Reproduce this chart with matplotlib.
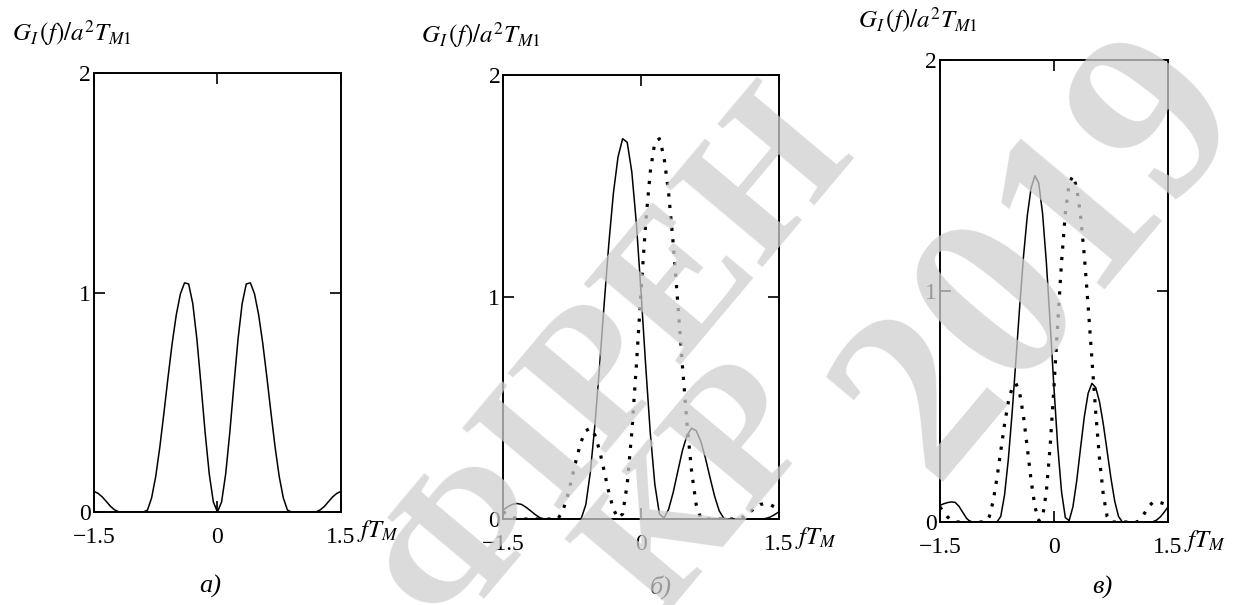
import numpy as np
import matplotlib
matplotlib.use("Agg")
import matplotlib.pyplot as plt

plt.rcParams['font.family'] = ['Liberation Serif', 'DejaVu Serif']
plt.rcParams['mathtext.fontset'] = 'stix'

# normalised frequency fT_M, step 0.05
fT = np.linspace(-1.5, 1.5, 61)

# а) symmetric spectrum
G_a = [0.094, 0.085, 0.069, 0.048, 0.026, 0.010, 0.001, 0, 0, 0, 0, 0, 0,
       0.009, 0.064, 0.162, 0.296, 0.452, 0.615, 0.769, 0.899, 0.994, 1.044,
       1.039, 0.950, 0.788, 0.580, 0.363, 0.174, 0.046, 0.0,
       0.046, 0.174, 0.363, 0.580, 0.788, 0.950, 1.039, 1.044, 0.994, 0.899,
       0.769, 0.615, 0.452, 0.296, 0.162, 0.064, 0.009, 0, 0, 0, 0, 0, 0,
       0.001, 0.010, 0.026, 0.048, 0.069, 0.085, 0.094]

# б) shifted spectra
G_b_solid = [0.040, 0.055, 0.066, 0.070, 0.066, 0.053, 0.037, 0.020, 0.006,
             0.000, 0, 0, 0, 0, 0, 0, 0, 0.002, 0.065, 0.214, 0.430, 0.692,
             0.972, 1.240, 1.469, 1.631, 1.713, 1.697, 1.563, 1.329, 1.023,
             0.696, 0.392, 0.157, 0.023, 0.004, 0.044, 0.120, 0.215, 0.308,
             0.377, 0.409, 0.398, 0.350, 0.275, 0.187, 0.103, 0.037, 0.003,
             0, 0, 0, 0, 0, 0, 0, 0, 0.002, 0.008, 0.019, 0.033]
G_b_dot = [0.033, 0.019, 0.008, 0.002, 0, 0, 0, 0, 0, 0, 0, 0, 0.003, 0.037,
           0.103, 0.187, 0.275, 0.350, 0.398, 0.409, 0.377, 0.308, 0.215,
           0.120, 0.044, 0.004, 0.023, 0.157, 0.392, 0.696, 1.023, 1.329,
           1.563, 1.697, 1.713, 1.631, 1.469, 1.240, 0.972, 0.692, 0.430,
           0.214, 0.065, 0.002, 0, 0, 0, 0, 0, 0, 0, 0.000, 0.006, 0.020,
           0.037, 0.053, 0.066, 0.070, 0.066, 0.055, 0.040]

# в) shifted spectra, larger side lobe
G_c_solid = [0.072, 0.079, 0.084, 0.087, 0.085, 0.068, 0.042, 0.016, 0.001,
             0, 0, 0, 0, 0, 0, 0, 0.024, 0.117, 0.272, 0.474, 0.703, 0.936,
             1.152, 1.328, 1.447, 1.499, 1.467, 1.337, 1.125, 0.862, 0.582,
             0.327, 0.131, 0.019, 0.006, 0.066, 0.179, 0.320, 0.456, 0.557,
             0.600, 0.582, 0.520, 0.423, 0.307, 0.190, 0.090, 0.024, 0, 0,
             0, 0, 0, 0, 0, 0, 0.001, 0.008, 0.022, 0.042, 0.065]
G_c_dot = [0.065, 0.042, 0.022, 0.008, 0.001, 0, 0, 0, 0, 0, 0, 0, 0, 0.024,
           0.090, 0.190, 0.307, 0.423, 0.520, 0.582, 0.600, 0.557, 0.456,
           0.320, 0.179, 0.066, 0.006, 0.019, 0.131, 0.327, 0.582, 0.862,
           1.125, 1.337, 1.467, 1.499, 1.447, 1.328, 1.152, 0.936, 0.703,
           0.474, 0.272, 0.117, 0.024, 0, 0, 0, 0, 0, 0, 0, 0.001, 0.016,
           0.042, 0.068, 0.085, 0.087, 0.084, 0.079, 0.072]

x_ticks = [-1.5, 0, 1.5]
x_labels = ['\u22121.5', '0', '1.5']
y_ticks = [0, 1, 2]
y_labels = ['0', '1', '2']
captions = ['а)', 'б)', 'в)']
ylabel = r'$G_{I}\,(f)/a^{2}T_{M1}$'

W, H = 1243, 605
fig = plt.figure(figsize=(W / 100, H / 100), dpi=100)

boxes = [[0.0756, 0.1537, 0.1987, 0.7256],
         [0.4047, 0.1421, 0.2220, 0.7339],
         [0.7562, 0.1372, 0.1834, 0.7636]]
caption_xy = [(210, 586), (661, 587), (1102, 587)]
curves = [[G_a], [G_b_solid, G_b_dot], [G_c_solid, G_c_dot]]

for box, series, cap, cxy in zip(boxes, curves, captions, caption_xy):
    ax = fig.add_axes(box)
    ax.plot(fT, series[0], color='black', lw=1.1)
    if len(series) > 1:
        ax.plot(fT, series[1], color='black', lw=2.3,
                linestyle=(0, (1, 2.6)))
    ax.set_xlim(-1.5, 1.5)
    ax.set_ylim(0, 2)
    ax.set_xticks(x_ticks)
    ax.set_xticklabels(x_labels)
    ax.set_yticks(y_ticks)
    ax.set_yticklabels(y_labels)
    ax.tick_params(direction='in', top=True, right=True, length=8,
                   width=1.2, labelsize=17)
    ax.tick_params(axis='x', pad=11)
    ax.tick_params(axis='y', pad=2)
    for s in ax.spines.values():
        s.set_linewidth(1.4)
    ax.annotate('$fT_M$', xy=(1, 0), xycoords='axes fraction',
                xytext=(16, -19), textcoords='offset pixels',
                ha='left', va='center', fontsize=18)
    ax.annotate(ylabel, xy=(0, 1), xycoords='axes fraction',
                xytext=(-82, 40), textcoords='offset pixels',
                ha='left', va='center', fontsize=18)
    fig.text(cxy[0] / W, 1 - cxy[1] / H, cap, ha='center', va='center',
             fontsize=19, style='italic')

# publisher watermark over the plots
wm = dict(ha='center', va='center', rotation=50, rotation_mode='anchor',
          fontweight='bold', color='#cfcfcf', alpha=0.75, zorder=10)
fig.text(615 / W, 1 - 362 / H, 'ФIPEH', fontsize=138, **wm)
fig.text(705 / W, 1 - 492 / H, 'КР', fontsize=138, **wm)
fig.text(1045 / W, 1 - 258 / H, '2019', fontsize=175, **wm)

fig.savefig('out.png', dpi=100)
